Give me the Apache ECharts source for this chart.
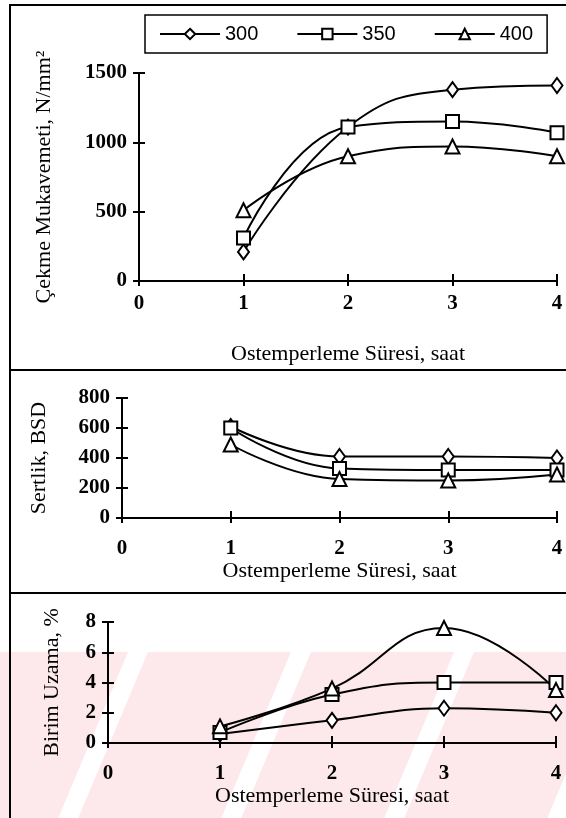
<!DOCTYPE html>
<html><head><meta charset="utf-8">
<script src="https://cdn.jsdelivr.net/npm/echarts@6/dist/echarts.min.js"></script>
<style>html,body{margin:0;padding:0;background:#fff}#c{width:566px;height:818px}</style>
</head><body><div id="c"></div>
<script>
// ---- data ----
const hours = [1, 2, 3, 4];
const seriesNames = ['300', '350', '400'];
const tensile300 = [210, 1110, 1380, 1410];
const tensile350 = [310, 1110, 1150, 1070];
const tensile400 = [510, 900, 970, 900];
const hard300 = [610, 410, 410, 400];
const hard350 = [600, 330, 320, 320];
const hard400 = [490, 260, 250, 290];
const elong300 = [0.6, 1.5, 2.3, 2.0];
const elong350 = [0.7, 3.2, 4.0, 4.0];
const elong400 = [1.1, 3.6, 7.6, 3.5];
const xTickMax = 4;
const yMax = [1500, 800, 8];
const yStep = [500, 200, 2];
const xTitle = 'Ostemperleme Süresi, saat';
const yTitles = ['Çekme Mukavemeti, N/mm²', 'Sertlik, BSD', 'Birim Uzama, %'];

// ---- layout ----
const grids = [
  {left: 139, right: 9, top: 73, height: 208},
  {left: 122, right: 9, top: 398, height: 120},
  {left: 108, right: 10, top: 622, height: 121}
];
const xLabelMargin = [12, 20, 20];
const xNameGap = [62, 33, 37];
const yNameGap = [84, 72, 45];
const serif = 'Liberation Serif';

const xAxes = [], yAxes = [];
grids.forEach((g, i) => {
  xAxes.push({
    gridIndex: i, type: 'value', min: 0, max: xTickMax, interval: 1, position: 'bottom',
    axisLine: {lineStyle: {color: '#000', width: 2}},
    axisTick: {length: 5, lineStyle: {color: '#000', width: 2}},
    axisLabel: {color: '#000', fontFamily: serif, fontSize: 21, fontWeight: 'bold', margin: xLabelMargin[i],
      formatter: v => String(v)},
    splitLine: {show: false},
    name: xTitle, nameLocation: 'middle', nameGap: xNameGap[i],
    nameTextStyle: {color: '#000', fontFamily: serif, fontSize: 22}
  });
  xAxes.push({
    gridIndex: i, type: 'value', min: 0, max: xTickMax, interval: 1, position: 'bottom',
    axisLine: {show: false}, axisLabel: {show: false}, splitLine: {show: false},
    axisTick: {inside: true, length: 7, lineStyle: {color: '#000', width: 2}}
  });
  xAxes.push({
    gridIndex: i, type: 'value', min: 0, max: xTickMax, interval: 1, position: 'top',
    axisLine: {lineStyle: {color: '#000', width: 2, type: [2, 2]}},
    axisTick: {show: false}, axisLabel: {show: false}, splitLine: {show: false}
  });
  yAxes.push({
    gridIndex: i, type: 'value', min: 0, max: yMax[i], interval: yStep[i], position: 'left',
    axisLine: {show: true, lineStyle: {color: '#000', width: 2}},
    axisTick: {show: true, length: 6, lineStyle: {color: '#000', width: 2}},
    axisLabel: {color: '#000', fontFamily: serif, fontSize: 21, fontWeight: 'bold', margin: 12,
      formatter: v => String(v)},
    splitLine: {show: false},
    name: yTitles[i], nameLocation: 'middle', nameGap: yNameGap[i], nameRotate: 90,
    nameTextStyle: {color: '#000', fontFamily: serif, fontSize: 22}
  });
  yAxes.push({
    gridIndex: i, type: 'value', min: 0, max: yMax[i], interval: yStep[i], position: 'left',
    axisLine: {show: false}, axisLabel: {show: false}, splitLine: {show: false},
    axisTick: {show: true, inside: true, length: 6, lineStyle: {color: '#000', width: 2}}
  });
  yAxes.push({
    gridIndex: i, type: 'value', min: 0, max: yMax[i], interval: yStep[i], position: 'right',
    axisLine: {show: true, lineStyle: {color: '#000', width: 2, type: [2, 2]}},
    axisTick: {show: false}, axisLabel: {show: false}, splitLine: {show: false}
  });
});

const symbols = ['diamond', 'rect', 'triangle'];
const symSizes = [[11, 15], 13, 14];
const dataSets = [
  [tensile300, tensile350, tensile400],
  [hard300, hard350, hard400],
  [elong300, elong350, elong400]
];
const series = [];
dataSets.forEach((set, gi) => {
  set.forEach((vals, si) => {
    series.push({
      name: seriesNames[si], type: 'line', smooth: 0.45,
      xAxisIndex: gi * 3, yAxisIndex: gi * 3,
      data: hours.map((h, k) => [h, vals[k]]),
      symbol: symbols[si], symbolSize: symSizes[si],
      lineStyle: {color: '#000', width: 2},
      itemStyle: {color: '#fff', borderColor: '#000', borderWidth: 2},
      z: 5, animation: false
    });
  });
});

// decorative watermark stripes (background)
const stripes = [];
const sTop = 652, sBot = 818, slope = 0.42, period = 163, gap = 20;
for (let k = -3; k < 6; k++) {
  const cTop = 138 + k * period;           // white gap centre at top edge
  const cBot = cTop - (sBot - sTop) * slope;
  const a = cTop + gap / 2, b = cTop + period - gap / 2;
  const c = cBot + period - gap / 2, d = cBot + gap / 2;
  stripes.push({
    type: 'polygon', z: -10, silent: true,
    shape: {points: [[a, sTop], [b, sTop], [c, sBot], [d, sBot]]},
    style: {fill: '#fde8eb'}
  });
}
const frames = [
  {type: 'rect', shape: {x: 10, y: 5, width: 620, height: 365}, style: {fill: 'none', stroke: '#000', lineWidth: 2}, z: 20, silent: true},
  {type: 'rect', shape: {x: 10, y: 370, width: 620, height: 223}, style: {fill: 'none', stroke: '#000', lineWidth: 2}, z: 20, silent: true},
  {type: 'rect', shape: {x: 10, y: 593, width: 620, height: 240}, style: {fill: 'none', stroke: '#000', lineWidth: 2}, z: 20, silent: true}
];

const chart = echarts.init(document.getElementById('c'), null, {renderer: 'canvas'});
chart.setOption({
  animation: false,
  backgroundColor: '#fff',
  grid: grids,
  xAxis: xAxes,
  yAxis: yAxes,
  legend: {
    data: seriesNames, left: 145, top: 15, orient: 'horizontal',
    itemWidth: 60, itemHeight: 13, itemGap: 38,
    borderColor: '#000', borderWidth: 1.5, padding: [9, 14],
    textStyle: {color: '#000', fontFamily: 'Liberation Sans', fontSize: 20}
  },
  graphic: stripes.concat(frames),
  series: series
});
</script></body></html>
